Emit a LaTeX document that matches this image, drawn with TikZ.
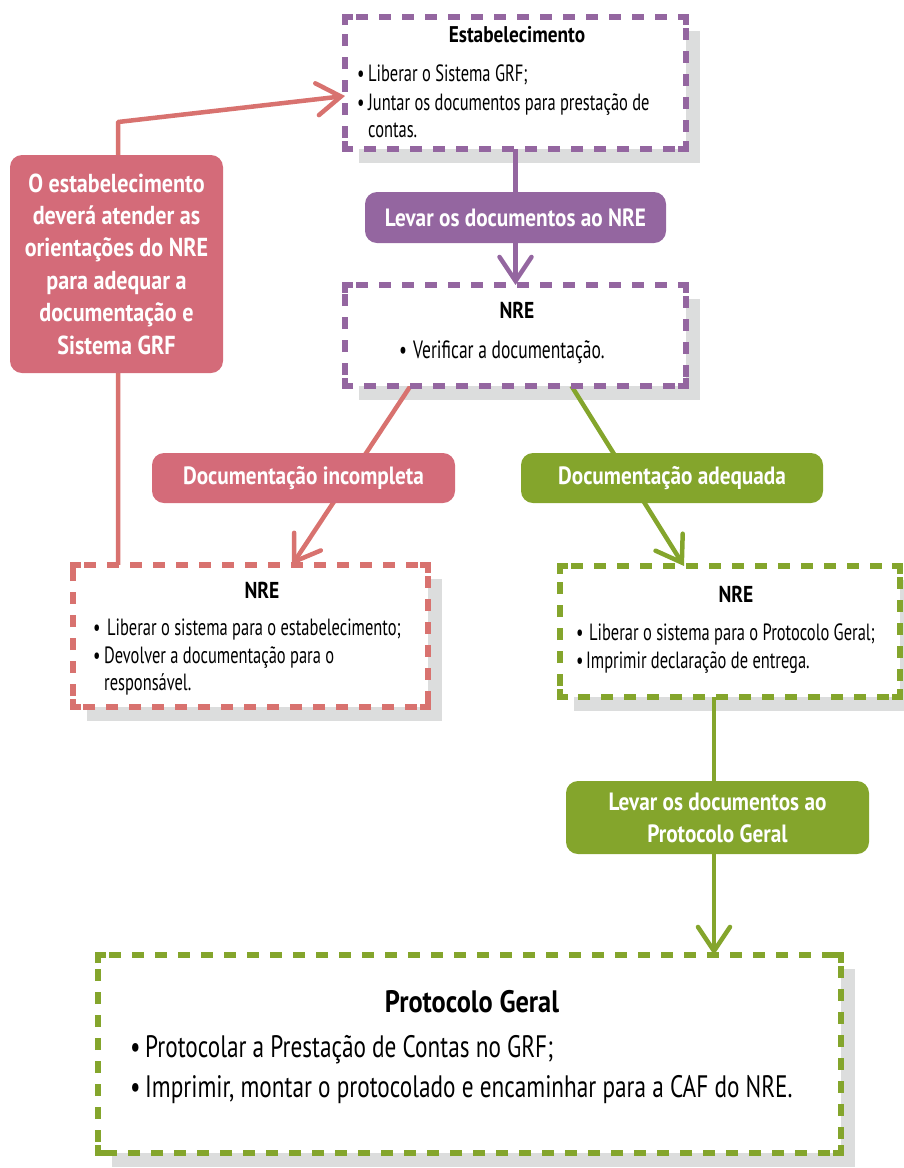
\documentclass[tikz,border=0pt]{standalone}
\usepackage{fontspec}
\setmainfont{PT Sans}[FakeStretch=0.75, BoldFeatures={FakeStretch=0.85}]
\newfontfamily\bodyfont{PT Sans}[FakeStretch=0.70]
\usetikzlibrary{arrows.meta,calc}
\definecolor{cpurple}{HTML}{9466A0}
\definecolor{cred}{HTML}{D46B79}
\definecolor{credline}{HTML}{D8726F}
\definecolor{cgreen}{HTML}{84A52C}
\definecolor{cshadow}{HTML}{DCDDDD}
\pgfdeclarelayer{shadowlayer}
\pgfdeclarelayer{linelayer}
\pgfsetlayers{shadowlayer,linelayer,main}
\newcommand\bl[1]{\makebox[#1][l]{\textbullet}}
\tikzset{
  boxnode/.style={rectangle, fill=white, inner sep=0pt, outer sep=0pt},
  dashside/.style={line width=6pt, dash pattern=on 12pt off 11pt, dash phase=12pt},
  lbl/.style={fill=#1, rounded corners=12pt, text=white, inner sep=0pt,
    font=\bfseries\fontsize{25}{32}\selectfont},
  conn/.style={draw=#1, line width=4.5pt, line join=round,
    -{Straight Barb[length=24pt,width=32pt,line cap=round]}},
  tx/.style={anchor=base west, inner sep=0pt, font=\bodyfont\fontsize{23.5}{28}\selectfont},
  txbig/.style={anchor=base west, inner sep=0pt, font=\fontsize{31}{40}\selectfont},
  ttl/.style={anchor=base, inner sep=0pt, font=\bfseries\fontsize{23}{28}\selectfont},
}
\newcommand\shadowof[1]{\fill[cshadow] ($(#1.south west)+(14,14)$) rectangle ($(#1.north east)+(14,14)$);}
\newcommand\dborder[2]{%
  \draw[#2, dashside] (#1.north west) -- (#1.north east);
  \draw[#2, dashside] (#1.north east) -- (#1.south east);
  \draw[#2, dashside] (#1.south east) -- (#1.south west);
  \draw[#2, dashside] (#1.south west) -- (#1.north west);
  \draw[#2, line width=6pt] ($(#1.north west)+(0,8)$) -- (#1.north west) -- ($(#1.north west)+(8,0)$);
  \draw[#2, line width=6pt] ($(#1.north east)+(-8,0)$) -- (#1.north east) -- ($(#1.north east)+(0,8)$);
  \draw[#2, line width=6pt] ($(#1.south east)+(0,-8)$) -- (#1.south east) -- ($(#1.south east)+(-8,0)$);
  \draw[#2, line width=6pt] ($(#1.south west)+(8,0)$) -- (#1.south west) -- ($(#1.south west)+(0,-8)$);
}
\begin{document}
\begin{tikzpicture}[x=1pt,y=-1pt]
\useasboundingbox (0,0) rectangle (904,1168);
% boxes
\node[boxnode, minimum width=341pt, minimum height=132pt] (est) at (515.5,83) {};
\node[boxnode, minimum width=341pt, minimum height=101pt] (nre1) at (515.5,335.5) {};
\node[boxnode, minimum width=355pt, minimum height=142pt] (nre2) at (250.5,636) {};
\node[boxnode, minimum width=340pt, minimum height=131pt] (nre3) at (730,631.5) {};
\node[boxnode, minimum width=743pt, minimum height=198pt] (prot) at (469.5,1054) {};
\dborder{est}{cpurple}
\dborder{nre1}{cpurple}
\dborder{nre2}{credline}
\dborder{nre3}{cgreen}
\dborder{prot}{cgreen}
% shadows
\begin{pgfonlayer}{shadowlayer}
  \shadowof{est}\shadowof{nre1}\shadowof{nre2}\shadowof{nre3}\shadowof{prot}
\end{pgfonlayer}
% texts in boxes
\node[ttl, font=\bfseries\fontsize{22.7}{28}\selectfont] (estT) at (517,42) {Estabelecimento};
\node[tx] (estA) at (357,81) {\bl{11pt}Liberar o Sistema GRF;};
\node[tx] (estB) at (357,110) {\bl{11pt}Juntar os documentos para prestação de};
\node[tx] (estC) at (368,137) {contas.};
\node[ttl] (nre1T) at (517,318) {NRE};
\node[tx, font=\bodyfont\fontsize{25}{28}\selectfont] (nre1A) at (399,358) {\bl{14pt}Verificar a documentação.};
\node[ttl] (nre2T) at (262,598) {NRE};
\node[tx] (nre2A) at (93,635) {\bl{14pt}Liberar o sistema para o estabelecimento;};
\node[tx] (nre2B) at (93,663) {\bl{11pt}Devolver a documentação para o};
\node[tx] (nre2C) at (104,690) {responsável.};
\node[ttl] (nre3T) at (736,602) {NRE};
\node[tx] (nre3A) at (576,640) {\bl{13pt}Liberar o sistema para o Protocolo Geral;};
\node[tx] (nre3B) at (576,668) {\bl{10pt}Imprimir declaração de entrega.};
\node[ttl, font=\bfseries\fontsize{31}{36}\selectfont] (protT) at (472,1012) {Protocolo Geral};
\node[txbig] (protA) at (130,1057) {\bl{15pt}Protocolar a Prestação de Contas no GRF;};
\node[txbig] (protB) at (130,1097) {\bl{15pt}Imprimir, montar o protocolado e encaminhar para a CAF do NRE.};
% labels
\node[lbl=cpurple, minimum width=301pt, minimum height=51pt] (l1) at (515.5,217.5) {Levar os documentos ao NRE};
\node[lbl=cred, minimum width=303pt, minimum height=50pt] (l2) at (303.5,478) {Documentação incompleta};
\node[lbl=cgreen, minimum width=302pt, minimum height=50pt] (l3) at (672,478) {Documentação adequada};
\node[lbl=cgreen, minimum width=303pt, minimum height=73pt, text width=283pt] (l4) at (717.5,817.5)
  {\spaceskip=0pt\xspaceskip=0pt\centering Levar os documentos ao\\Protocolo Geral\par};
\node[lbl=cred, minimum width=213pt, minimum height=218pt, text width=205pt,
  font=\bfseries\fontsize{26}{32.4}\selectfont] (l5) at (116.5,264)
  {\spaceskip=0pt\xspaceskip=0pt\centering O estabelecimento\\deverá atender as\\orientações do NRE\\para adequar a\\documentação e\\Sistema GRF\par};
% connectors
\coordinate (g1) at ($(nre3.south)+(-16,0)$);
\coordinate (r0) at ($(nre2.north west)+(45,0)$);
\coordinate (rbend) at (118,122);
\begin{pgfonlayer}{linelayer}
  \draw[conn=cpurple] (est.south) -- (nre1.north);
  \draw[conn=credline] ($(nre1.south)+(-105,0)$) -- ($(nre2.north)+(41.5,0)$);
  \draw[conn=cgreen] ($(nre1.south)+(56,0)$) -- ($(nre3.north)+(-46,0)$);
  \draw[conn=cgreen] (g1) -- (g1 |- prot.north);
  \draw[conn=credline] (r0) -- (rbend) -- ($(est.west)+(0,13)$);
\end{pgfonlayer}
\end{tikzpicture}
\end{document}
